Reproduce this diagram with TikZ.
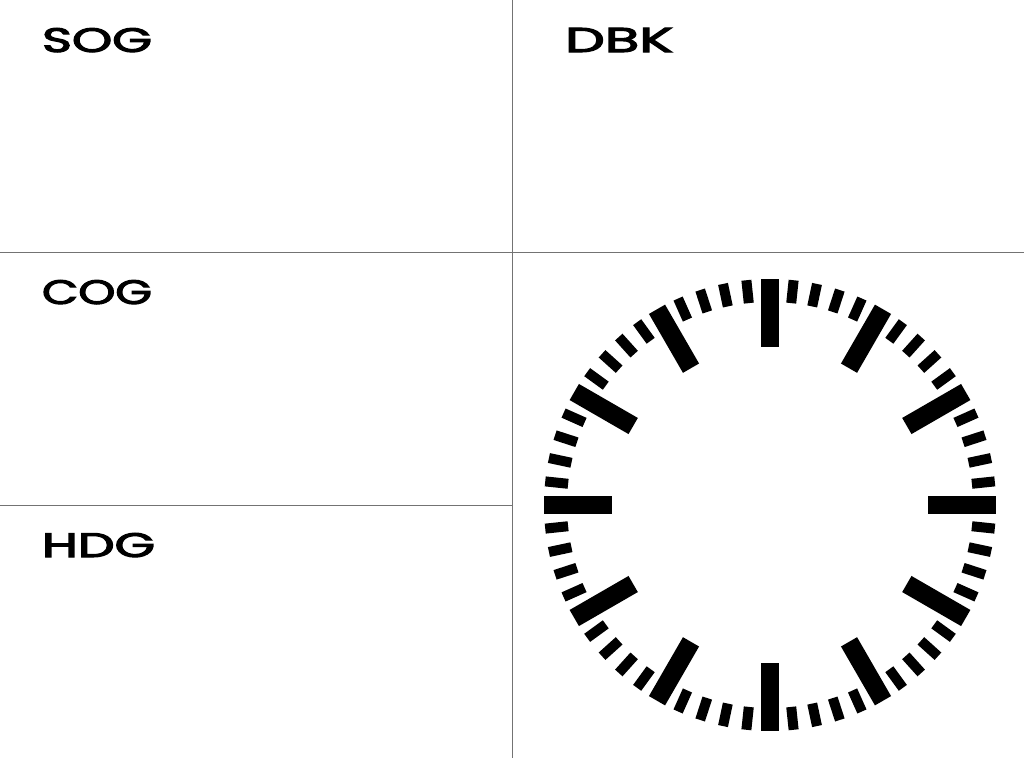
\documentclass[tikz,border=0pt]{standalone}
\usepackage{fontspec}
\usepackage{graphicx}
\newfontfamily\labelfont{Poppins}
\tikzset{
  x=1pt, y=-1pt,
  divider/.style={draw=black!55, line width=1pt},
  lab/.style={anchor=north west, inner sep=0pt, outer sep=0pt},
}
\newcommand{\lbl}[2]{\resizebox{#1pt}{24pt}{\labelfont\addfontfeature{FakeBold=3}#2}}
\begin{document}
\begin{tikzpicture}
\useasboundingbox (0,0) rectangle (1024,758);
% grid lines
\coordinate (vt) at (512,0);
\coordinate (vb) at (512,758);
\coordinate (h1l) at (0,252);
\coordinate (h1r) at (1024,252);
\coordinate (h2l) at (0,505);
\coordinate (h2r) at (512,505);
\draw[divider] (vt) -- (vb);
\draw[divider] (h1l) -- (h1r);
\draw[divider] (h2l) -- (h2r);
% labels
\node[lab] (sog) at (42,28) {\lbl{110}{SOG}};
\node[lab] (dbk) at (565,28) {\lbl{108}{DBK}};
\node[lab] (cog) at (42,280) {\lbl{110}{COG}};
\node[lab] (hdg) at (42,533) {\lbl{113}{HDG}};
% clock dial
\coordinate (c) at (770,505);
\foreach \i in {0,...,59}{
  \pgfmathtruncatemacro{\m}{mod(\i,5)}
  \ifnum\m=0
    \fill[shift={(c)}, rotate=\i*6] (-9.3,-226) rectangle (9.3,-158);
  \else
    \fill[shift={(c)}, rotate=\i*6] (-5,-226) rectangle (5,-203);
  \fi
}
\end{tikzpicture}
\end{document}
